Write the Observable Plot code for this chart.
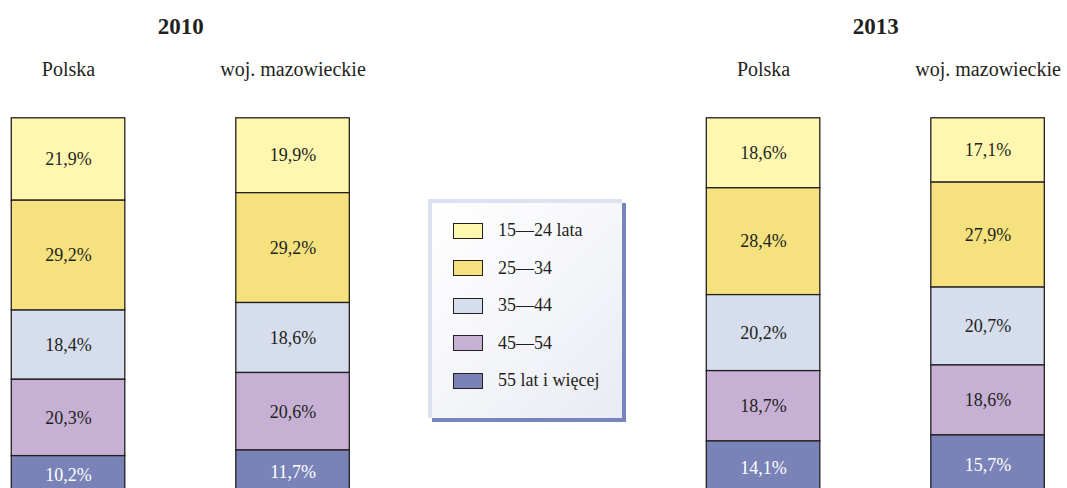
<!DOCTYPE html>
<html>
<head>
<meta charset="utf-8">
<script src="https://cdn.jsdelivr.net/npm/d3@7"></script>
<script src="https://cdn.jsdelivr.net/npm/@observablehq/plot@0.6"></script>
<style>
  html, body { margin: 0; padding: 0; background: #ffffff; }
  #wrap { position: relative; width: 1067px; height: 488px; overflow: hidden; font-family: "Liberation Serif", "Times New Roman", "DejaVu Serif", serif; }
  #legend {
    position: absolute; left: 428px; top: 199px; width: 190px; height: 206px;
    border-top: 4px solid #dde2f0; border-left: 4px solid #dde2f0;
    background: linear-gradient(135deg, #ffffff 0%, #f4f5f9 55%, #e8ebf3 100%);
    box-shadow: 4px 4px 0 #7a84bc;
    padding-top: 9px; box-sizing: content-box;
  }
  .row { display: flex; align-items: center; height: 37.5px; }
  .sw { width: 28px; height: 14px; border: 1.5px solid #231f20; margin-left: 21px; margin-right: 15px; }
  .lb { font-size: 18px; color: #231f20; }
</style>
</head>
<body>
<div id="wrap"></div>
<script>
const years = ["2010", "2013"];
const regions = ["Polska", "woj. mazowieckie"];
const groups = ["15—24 lata", "25—34", "35—44", "45—54", "55 lat i więcej"];
const colors = ["#fff7b0", "#f5e27e", "#d6ddec", "#c6b0d4", "#7983b8"];
const values2010Polska = [21.9, 29.2, 18.4, 20.3, 10.2];
const values2010Mazowieckie = [19.9, 29.2, 18.6, 20.6, 11.7];
const values2013Polska = [18.6, 28.4, 20.2, 18.7, 14.1];
const values2013Mazowieckie = [17.1, 27.9, 20.7, 18.6, 15.7];

const series = [
  {year: years[0], region: regions[0], values: values2010Polska},
  {year: years[0], region: regions[1], values: values2010Mazowieckie},
  {year: years[1], region: regions[0], values: values2013Polska},
  {year: years[1], region: regions[1], values: values2013Mazowieckie}
];
const table = series.flatMap(s => s.values.map((v, i) => ({year: s.year, region: s.region, group: groups[i], value: v})));
const labelRows = years.flatMap(y => regions.map(r => ({year: y, region: r})));
const fmt = v => v.toFixed(1).replace(".", ",") + "%";
const last = groups[groups.length - 1];
const font = "Liberation Serif, Times New Roman, serif";

const chart = Plot.plot({
  width: 1067,
  height: 488,
  marginTop: 0, marginBottom: 0, marginLeft: 0, marginRight: 0,
  style: {fontFamily: font, background: "transparent", overflow: "hidden"},
  fx: {domain: years, range: [-234.7, 1290.3], paddingInner: 0.1942, paddingOuter: 0.1942, round: false, axis: null},
  x: {domain: regions, paddingInner: 0.4944, paddingOuter: 0.4944, round: false, axis: null},
  y: {domain: [0, 100], range: [117.8, 494.0], axis: null},
  color: {domain: groups, range: colors},
  marks: [
    Plot.barY(table, {fx: "year", x: "region", y: "value", z: "group", order: groups, fill: "group", stroke: "#231f20", strokeWidth: 1.3}),
    Plot.text(table, Plot.stackY({fx: "year", x: "region", y: "value", z: "group", order: groups,
      text: d => d.group === last ? "" : fmt(d.value), fill: "#231f20", fontSize: 18, fontFamily: font})),
    Plot.text(table, Plot.stackY({fx: "year", x: "region", y: "value", z: "group", order: groups,
      text: d => d.group === last ? fmt(d.value) : "", fill: "#ffffff", fontSize: 18, fontFamily: font})),
    Plot.text(years, {fx: d => d, text: d => d, frameAnchor: "top", lineAnchor: "middle", dy: 26.6, fontSize: 23, fontWeight: "bold", fontFamily: font, fill: "#231f20"}),
    Plot.text(labelRows, {fx: "year", x: "region", text: "region", frameAnchor: "top", lineAnchor: "middle", dy: 68.8, fontSize: 20, fontFamily: font, fill: "#231f20"})
  ]
});

const wrap = document.getElementById("wrap");
wrap.appendChild(chart);

const legend = document.createElement("div");
legend.id = "legend";
groups.forEach((g, i) => {
  const row = document.createElement("div");
  row.className = "row";
  const sw = document.createElement("div");
  sw.className = "sw";
  sw.style.background = colors[i];
  const lb = document.createElement("div");
  lb.className = "lb";
  lb.textContent = g;
  row.appendChild(sw);
  row.appendChild(lb);
  legend.appendChild(row);
});
wrap.appendChild(legend);
</script>
</body>
</html>
